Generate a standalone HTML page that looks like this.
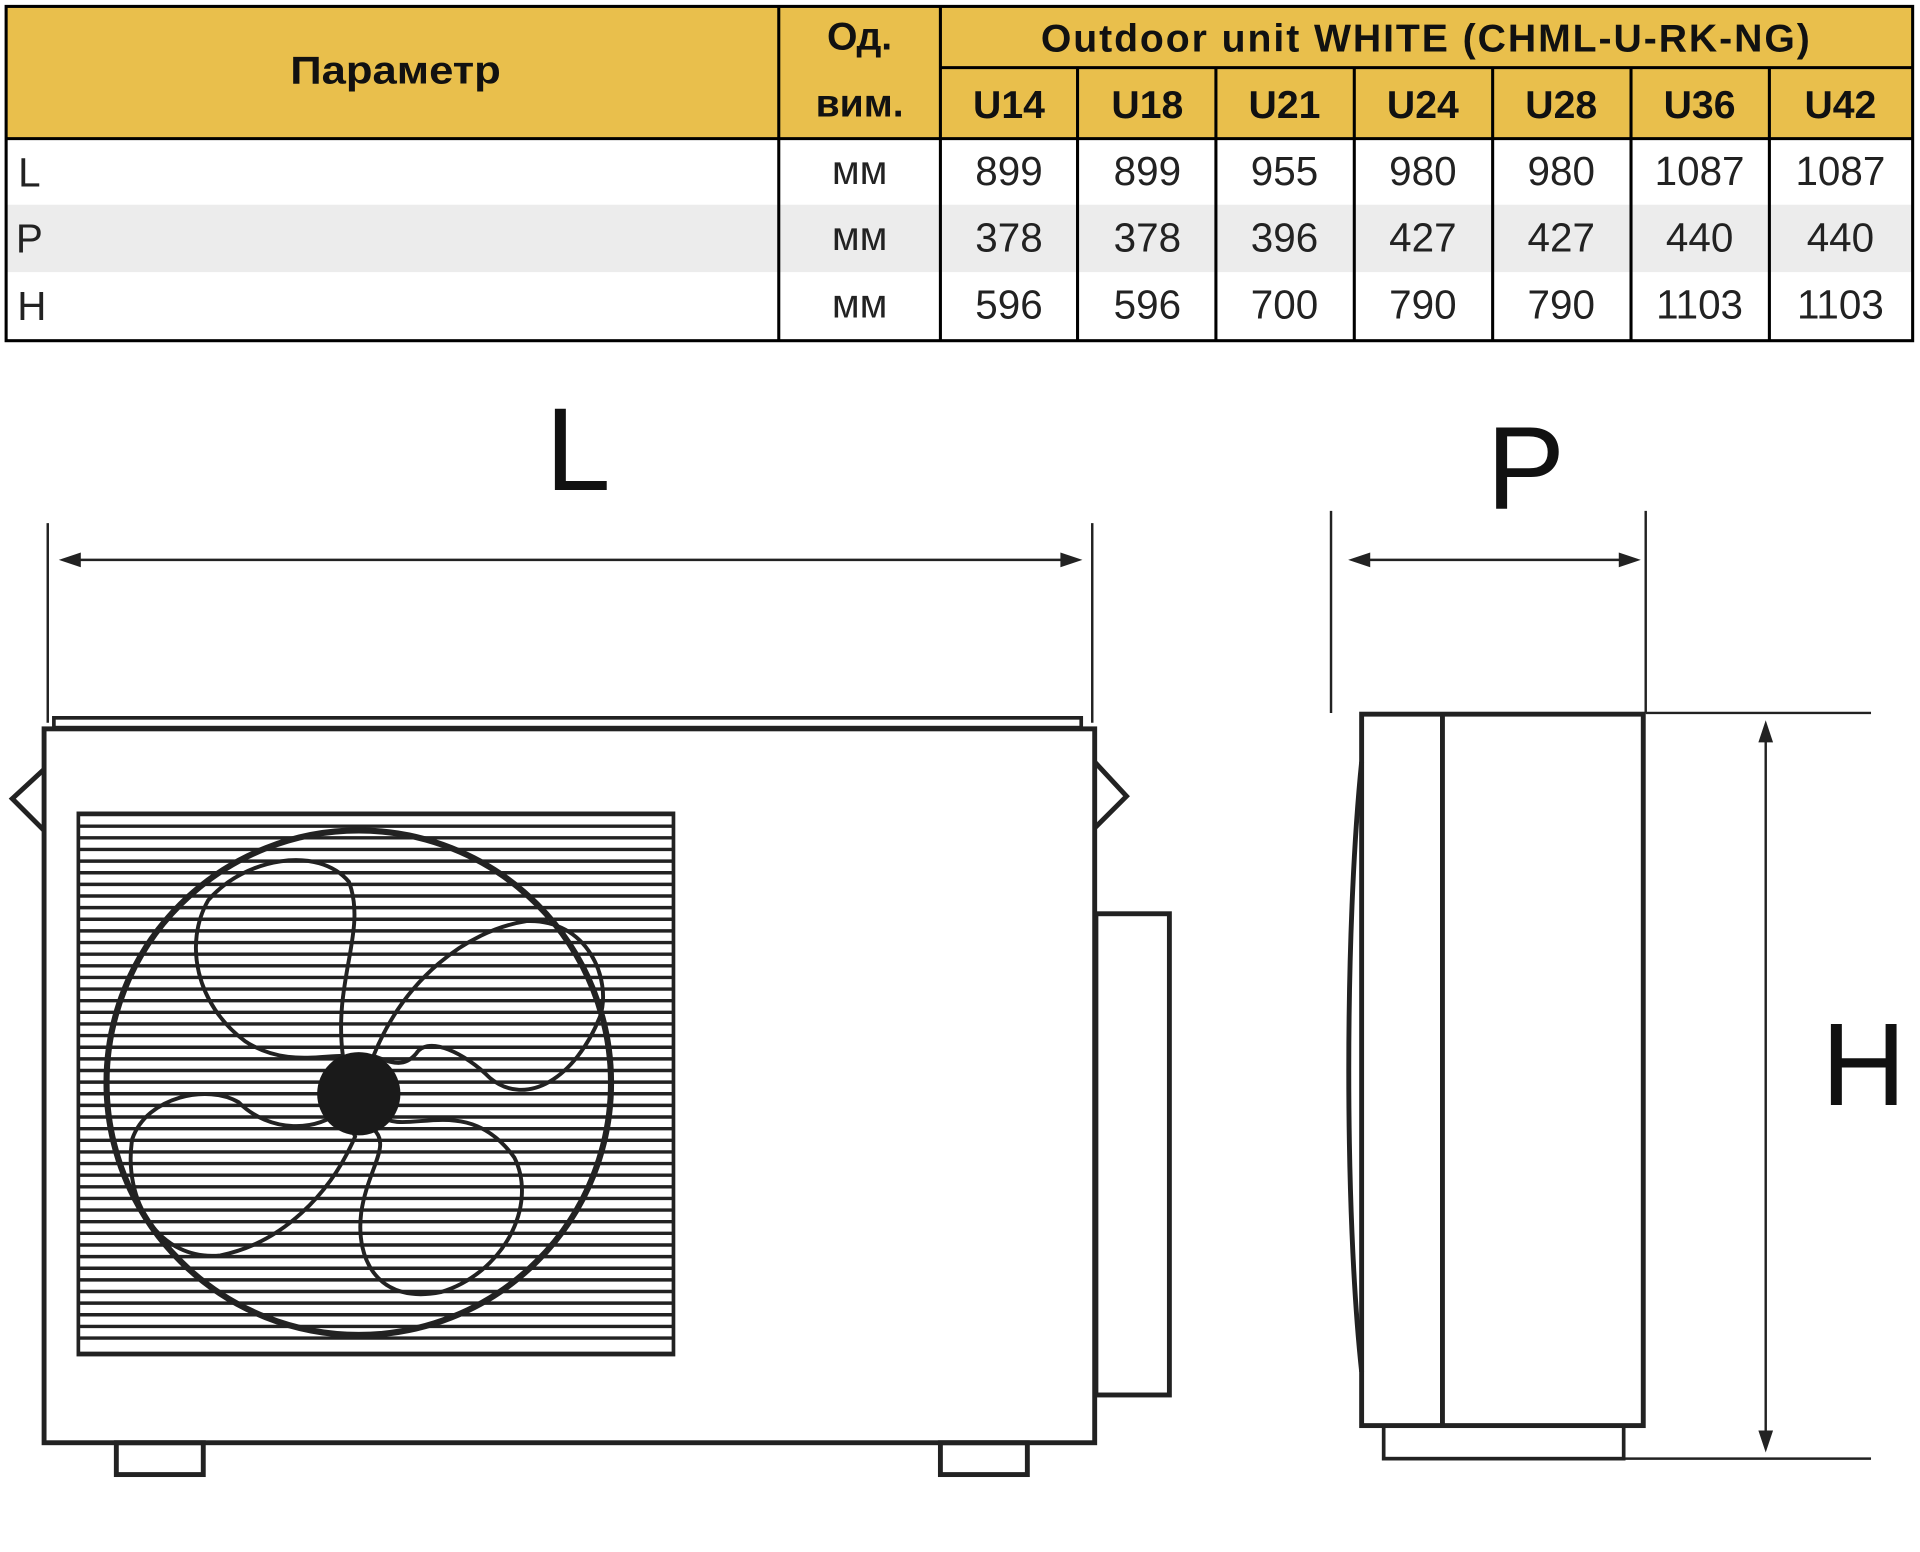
<!DOCTYPE html>
<html><head><meta charset="utf-8"><style>
html,body{margin:0;padding:0;background:#fff;}
svg{display:block;}
</style></head><body>
<svg width="1920" height="1552" viewBox="0 0 1568 1267" xmlns="http://www.w3.org/2000/svg" font-family="Liberation Sans, DejaVu Sans, sans-serif">
<!-- table -->
<rect x="5" y="5" width="1557" height="108" fill="#e9bf4c"/>
<rect x="5" y="167" width="1557" height="55" fill="#ececec"/>
<g stroke="#000" stroke-width="2.5" fill="none">
<rect x="5" y="5" width="1557" height="273"/>
<line x1="5" y1="113" x2="1562" y2="113"/>
<line x1="768" y1="55" x2="1562" y2="55"/>
<line x1="636" y1="5" x2="636" y2="278"/>
<line x1="768" y1="5" x2="768" y2="278"/>
<line x1="880" y1="55" x2="880" y2="278"/>
<line x1="993" y1="55" x2="993" y2="278"/>
<line x1="1106" y1="55" x2="1106" y2="278"/>
<line x1="1219" y1="55" x2="1219" y2="278"/>
<line x1="1332" y1="55" x2="1332" y2="278"/>
<line x1="1445" y1="55" x2="1445" y2="278"/>
</g>
<g font-weight="bold" font-size="32" text-anchor="middle" fill="#111">
<text x="323" y="68" textLength="172" lengthAdjust="spacingAndGlyphs">Параметр</text>
<text x="702" y="40">Од.</text>
<text x="702" y="95">вим.</text>
<text x="1164" y="42" textLength="628" lengthAdjust="spacing">Outdoor unit WHITE (CHML-U-RK-NG)</text>
<text x="824" y="96">U14</text><text x="937" y="96">U18</text><text x="1049" y="96">U21</text><text x="1162" y="96">U24</text><text x="1275" y="96">U28</text><text x="1388" y="96">U36</text><text x="1503" y="96">U42</text>
</g>
<g font-size="33" fill="#222" text-anchor="middle">
<text x="24" y="152">L</text><text x="24" y="206">P</text><text x="26" y="261">H</text>
<text x="702" y="150">мм</text><text x="702" y="204">мм</text><text x="702" y="259">мм</text>
<text x="824" y="151">899</text><text x="937" y="151">899</text><text x="1049" y="151">955</text><text x="1162" y="151">980</text><text x="1275" y="151">980</text><text x="1388" y="151">1087</text><text x="1503" y="151">1087</text>
<text x="824" y="205">378</text><text x="937" y="205">378</text><text x="1049" y="205">396</text><text x="1162" y="205">427</text><text x="1275" y="205">427</text><text x="1388" y="205">440</text><text x="1503" y="205">440</text>
<text x="824" y="260">596</text><text x="937" y="260">596</text><text x="1049" y="260">700</text><text x="1162" y="260">790</text><text x="1275" y="260">790</text><text x="1388" y="260">1103</text><text x="1503" y="260">1103</text>
</g>
<!-- labels -->
<g font-size="96" fill="#111" text-anchor="middle">
<text x="472" y="400">L</text>
<text x="1246" y="415">P</text>
<text x="1522" y="902">H</text>
</g>
<!-- dimension lines -->
<g stroke="#222" stroke-width="2" fill="none">
<line x1="39" y1="427" x2="39" y2="590"/>
<line x1="892" y1="427" x2="892" y2="590"/>
<line x1="52" y1="457" x2="880" y2="457"/>
<line x1="1087" y1="417" x2="1087" y2="582"/>
<line x1="1344" y1="417" x2="1344" y2="582"/>
<line x1="1105" y1="457" x2="1336" y2="457"/>
<line x1="1344" y1="582" x2="1528" y2="582"/>
<line x1="1326" y1="1191" x2="1528" y2="1191"/>
<line x1="1442" y1="592" x2="1442" y2="1182"/>
</g>
<g fill="#222">
<path d="M48 457 l18 -6 l0 12z"/><path d="M884 457 l-18 -6 l0 12z"/>
<path d="M1101 457 l18 -6 l0 12z"/><path d="M1340 457 l-18 -6 l0 12z"/>
<path d="M1442 588 l-6 18 l12 0z"/><path d="M1442 1186 l-6 -18 l12 0z"/>
</g>
<!-- front unit -->
<g stroke="#222" fill="none" stroke-width="4">
<rect x="44" y="586" width="839" height="8" stroke-width="3"/>
<rect x="36" y="595" width="858" height="583"/>
<path d="M36 628 L10 652 L36 678"/>
<path d="M894 622 L920 650 L894 676"/>
<rect x="895" y="746" width="60" height="393"/>
<rect x="95" y="1178" width="71" height="26"/>
<rect x="768" y="1178" width="71" height="26"/>
</g>
<g stroke="#222" stroke-width="2.8">
<line x1="64" y1="665" x2="550" y2="665"/>
<line x1="64" y1="674.5" x2="550" y2="674.5"/><line x1="64" y1="684" x2="550" y2="684"/><line x1="64" y1="693.5" x2="550" y2="693.5"/><line x1="64" y1="703" x2="550" y2="703"/><line x1="64" y1="712.5" x2="550" y2="712.5"/><line x1="64" y1="722" x2="550" y2="722"/><line x1="64" y1="731.5" x2="550" y2="731.5"/><line x1="64" y1="741" x2="550" y2="741"/><line x1="64" y1="750.5" x2="550" y2="750.5"/><line x1="64" y1="760" x2="550" y2="760"/><line x1="64" y1="769.5" x2="550" y2="769.5"/><line x1="64" y1="779" x2="550" y2="779"/><line x1="64" y1="788.5" x2="550" y2="788.5"/><line x1="64" y1="798" x2="550" y2="798"/><line x1="64" y1="807.5" x2="550" y2="807.5"/><line x1="64" y1="817" x2="550" y2="817"/><line x1="64" y1="826.5" x2="550" y2="826.5"/><line x1="64" y1="836" x2="550" y2="836"/><line x1="64" y1="845.5" x2="550" y2="845.5"/><line x1="64" y1="855" x2="550" y2="855"/><line x1="64" y1="864.5" x2="550" y2="864.5"/><line x1="64" y1="874" x2="550" y2="874"/><line x1="64" y1="883.5" x2="550" y2="883.5"/><line x1="64" y1="893" x2="550" y2="893"/><line x1="64" y1="902.5" x2="550" y2="902.5"/><line x1="64" y1="912" x2="550" y2="912"/><line x1="64" y1="921.5" x2="550" y2="921.5"/><line x1="64" y1="931" x2="550" y2="931"/><line x1="64" y1="940.5" x2="550" y2="940.5"/><line x1="64" y1="950" x2="550" y2="950"/><line x1="64" y1="959.5" x2="550" y2="959.5"/><line x1="64" y1="969" x2="550" y2="969"/><line x1="64" y1="978.5" x2="550" y2="978.5"/><line x1="64" y1="988" x2="550" y2="988"/><line x1="64" y1="997.5" x2="550" y2="997.5"/><line x1="64" y1="1007" x2="550" y2="1007"/><line x1="64" y1="1016.5" x2="550" y2="1016.5"/><line x1="64" y1="1026" x2="550" y2="1026"/><line x1="64" y1="1035.5" x2="550" y2="1035.5"/><line x1="64" y1="1045" x2="550" y2="1045"/><line x1="64" y1="1054.5" x2="550" y2="1054.5"/><line x1="64" y1="1064" x2="550" y2="1064"/><line x1="64" y1="1073.5" x2="550" y2="1073.5"/><line x1="64" y1="1083" x2="550" y2="1083"/><line x1="64" y1="1092.5" x2="550" y2="1092.5"/><line x1="64" y1="1105" x2="550" y2="1105"/>
</g>
<g stroke="#222" fill="none">
<rect x="64" y="664" width="486" height="442" stroke-width="3"/>
<circle cx="293" cy="884" r="206" stroke-width="5"/>
<g stroke-width="3.2">
<path d="M280 862 C272 800 300 760 285 720 C260 690 200 700 170 735 C150 770 160 820 200 850 C230 870 260 862 280 862Z"/>
<path d="M305 862 C330 800 380 760 430 752 C480 750 500 800 490 830 C470 880 430 905 400 880 C380 860 350 845 340 860 C330 872 320 868 305 862Z"/>
<path d="M280 905 C260 925 220 925 195 900 C170 885 120 895 108 930 C100 980 130 1030 180 1025 C230 1015 270 975 290 928Z"/>
<path d="M310 910 C330 930 380 890 420 945 C440 985 410 1040 360 1055 C310 1065 290 1030 295 990 C300 955 320 935 305 922Z"/>
</g>
<circle cx="293" cy="893" r="34" fill="#1a1a1a" stroke="none"/>
</g>
<!-- side unit -->
<g stroke="#222" fill="none" stroke-width="4">
<rect x="1112" y="583" width="230" height="581"/>
<line x1="1178" y1="583" x2="1178" y2="1164"/>
<path d="M1112 622 C1098 760 1098 990 1112 1120"/>
<rect x="1130" y="1164" width="196" height="27" stroke-width="3"/>
</g>
</svg>
</body></html>
